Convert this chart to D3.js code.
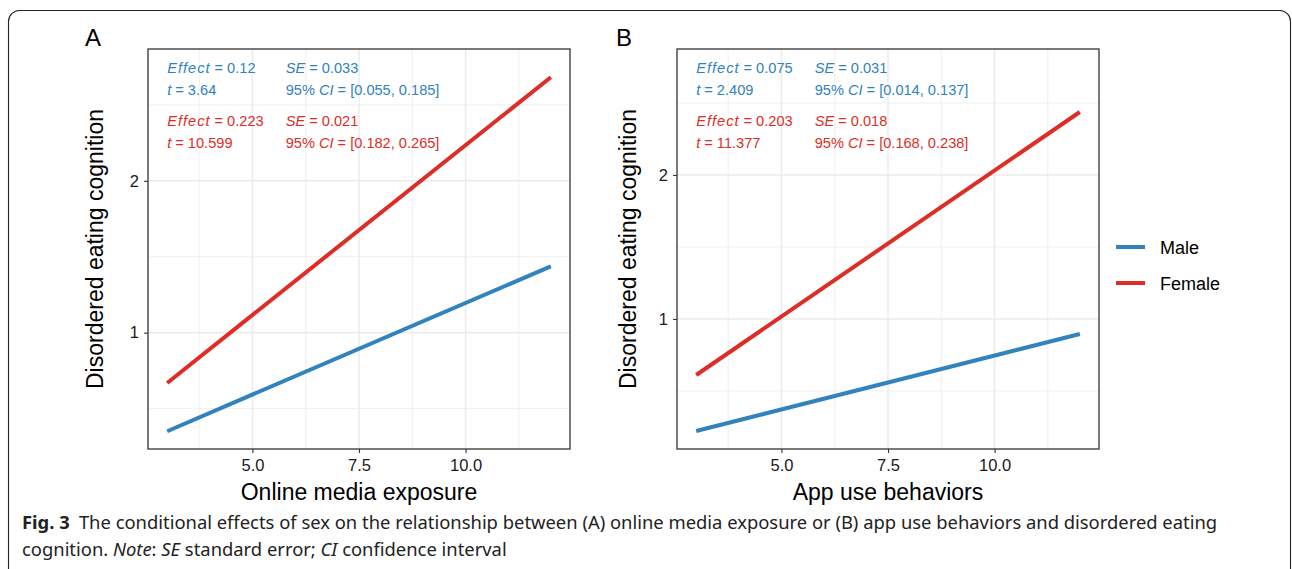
<!DOCTYPE html>
<html>
<head>
<meta charset="utf-8">
<script src="https://cdn.jsdelivr.net/npm/d3@7"></script>
<style>
  body { margin: 0; background: #fff; }
  svg { display: block; }
  svg text { font-family: "Liberation Sans", Arial, sans-serif; }
</style>
</head>
<body>
<div id="chart"></div>
<script>
// data: predicted values at the min and max of x
var xValues = [3, 12];
var maleA = [0.351, 1.437];
var femaleA = [0.669, 2.682];
var maleB = [0.222, 0.896];
var femaleB = [0.611, 2.4375];

var xTicks = [5, 7.5, 10];
var xMinor = [3.75, 6.25, 8.75, 11.25];
var yTicks = [1, 2];
var yMinor = [0.5, 1.5, 2.5];

var seriesNames = ['Male', 'Female'];
var colors = {'Male': '#3182bd', 'Female': '#de2d26'};

var statsA = {
	'Male': ['0.12', '0.033', '3.64', '[0.055, 0.185]'],
	'Female': ['0.223', '0.021', '10.599', '[0.182, 0.265]']
};
var statsB = {
	'Male': ['0.075', '0.031', '2.409', '[0.014, 0.137]'],
	'Female': ['0.203', '0.018', '11.377', '[0.168, 0.238]']
};

var W = 1292, H = 569;
var svg = d3.select('#chart').append('svg').attr('width', W).attr('height', H);

// outer frame of the figure box
svg.append('rect')
	.attr('x', 8.5).attr('y', 10.5)
	.attr('width', 1282).attr('height', 570)
	.attr('rx', 11).attr('ry', 11)
	.attr('fill', 'none').attr('stroke', '#222').attr('stroke-width', 1.1);

/**
 * draw one panel
 **/
function drawPanel(opt) {
	var x = d3.scaleLinear().domain([2.55, 12.45]).range([opt.left, opt.right]);
	var y = d3.scaleLinear().domain(opt.yDomain).range([449, 49]);
	var g = svg.append('g');

	g.append('rect')
		.attr('x', opt.left).attr('y', 49)
		.attr('width', opt.right - opt.left).attr('height', 400)
		.attr('fill', '#fff');

	// grid
	g.selectAll('.xmin').data(xMinor).enter().append('line')
		.attr('x1', function(d) { return x(d); }).attr('x2', function(d) { return x(d); })
		.attr('y1', 49).attr('y2', 449)
		.attr('stroke', '#ebebeb').attr('stroke-width', 0.8);
	g.selectAll('.ymin').data(yMinor.filter(function(d) { return d > opt.yDomain[0] && d < opt.yDomain[1]; })).enter().append('line')
		.attr('y1', function(d) { return y(d); }).attr('y2', function(d) { return y(d); })
		.attr('x1', opt.left).attr('x2', opt.right)
		.attr('stroke', '#ebebeb').attr('stroke-width', 0.8);
	g.selectAll('.xmaj').data(xTicks).enter().append('line')
		.attr('x1', function(d) { return x(d); }).attr('x2', function(d) { return x(d); })
		.attr('y1', 49).attr('y2', 449)
		.attr('stroke', '#ebebeb').attr('stroke-width', 1.5);
	g.selectAll('.ymaj').data(yTicks).enter().append('line')
		.attr('y1', function(d) { return y(d); }).attr('y2', function(d) { return y(d); })
		.attr('x1', opt.left).attr('x2', opt.right)
		.attr('stroke', '#ebebeb').attr('stroke-width', 1.5);

	// lines
	var line = d3.line()
		.x(function(d) { return x(d[0]); })
		.y(function(d) { return y(d[1]); });
	[['Male', opt.male], ['Female', opt.female]].forEach(function(s) {
		g.append('path')
			.datum(d3.zip(xValues, s[1]))
			.attr('d', line)
			.attr('fill', 'none')
			.attr('stroke', colors[s[0]])
			.attr('stroke-width', 4);
	});

	// annotations
	var rows = [[73, 95], [126, 148]];
	var fs = '14.6px';
	seriesNames.forEach(function(name, i) {
		var st = opt.stats[name];
		var c = colors[name];
		var t1 = g.append('text').attr('x', x(3)).attr('y', rows[i][0]).attr('fill', c).style('font-size', fs);
		t1.append('tspan').attr('font-style', 'italic').attr('letter-spacing', '1px').text('Effect');
		t1.append('tspan').text(' = ' + st[0]);
		var t2 = g.append('text').attr('x', x(3)).attr('y', rows[i][1]).attr('fill', c).style('font-size', fs);
		t2.append('tspan').attr('font-style', 'italic').text('t');
		t2.append('tspan').text(' = ' + st[2]);
		var t3 = g.append('text').attr('x', x(5.78)).attr('y', rows[i][0]).attr('fill', c).style('font-size', fs);
		t3.append('tspan').attr('font-style', 'italic').text('SE');
		t3.append('tspan').text(' = ' + st[1]);
		var t4 = g.append('text').attr('x', x(5.78)).attr('y', rows[i][1]).attr('fill', c).style('font-size', fs);
		t4.append('tspan').text('95% ');
		t4.append('tspan').attr('font-style', 'italic').text('CI');
		t4.append('tspan').text(' = ' + st[3]);
	});

	// panel border
	g.append('rect')
		.attr('x', opt.left).attr('y', 49)
		.attr('width', opt.right - opt.left).attr('height', 400)
		.attr('fill', 'none').attr('stroke', '#333').attr('stroke-width', 1.3);

	// axes
	var xAxis = g.append('g').attr('transform', 'translate(0,449)')
		.call(d3.axisBottom(x).tickValues(xTicks).tickFormat(d3.format('.1f')).tickSize(4).tickPadding(6));
	var yAxis = g.append('g').attr('transform', 'translate(' + opt.left + ',0)')
		.call(d3.axisLeft(y).tickValues(yTicks).tickFormat(d3.format('d')).tickSize(4).tickPadding(5));
	[xAxis, yAxis].forEach(function(a) {
		a.attr('font-family', null).attr('font-size', null);
		a.select('.domain').remove();
		a.selectAll('.tick line').attr('stroke', '#333').attr('stroke-width', 1.1);
		a.selectAll('.tick text').attr('fill', '#1a1a1a').style('font-size', '16.5px');
	});

	// titles
	g.append('text')
		.attr('x', (opt.left + opt.right) / 2).attr('y', 500)
		.attr('text-anchor', 'middle')
		.style('font-size', '23px').attr('fill', '#000')
		.text(opt.xTitle);
	g.append('text')
		.attr('transform', 'translate(' + opt.yTitleX + ',249) rotate(-90)')
		.attr('text-anchor', 'middle')
		.style('font-size', '23px').attr('fill', '#000')
		.text('Disordered eating cognition');
	g.append('text')
		.attr('x', opt.labelX).attr('y', 46)
		.style('font-size', '24px').attr('fill', '#000')
		.text(opt.label);
}

drawPanel({
	left: 148, right: 570, yDomain: [0.234, 2.868],
	male: maleA, female: femaleA, stats: statsA,
	xTitle: 'Online media exposure', yTitleX: 103, label: 'A', labelX: 85
});
drawPanel({
	left: 677, right: 1099, yDomain: [0.097, 2.875],
	male: maleB, female: femaleB, stats: statsB,
	xTitle: 'App use behaviors', yTitleX: 636, label: 'B', labelX: 616
});

// legend
var legend = svg.append('g');
seriesNames.forEach(function(name, i) {
	var ly = 247 + i * 36;
	legend.append('line')
		.attr('x1', 1116).attr('x2', 1145).attr('y1', ly).attr('y2', ly)
		.attr('stroke', colors[name]).attr('stroke-width', 4);
	legend.append('text')
		.attr('x', 1160).attr('y', ly + 6.5)
		.style('font-size', '18px').attr('fill', '#000')
		.text(name);
});

// caption
var capFont = '"Noto Sans", "Open Sans", sans-serif';
var cap1 = svg.append('text').attr('x', 22).attr('y', 529)
	.style('font-family', capFont).style('font-size', '18.4px').attr('fill', '#222');
cap1.append('tspan').attr('font-weight', 'bold').text('Fig. 3');
cap1.append('tspan').text('\u2002The conditional effects of sex on the relationship between (A) online media exposure or (B) app use behaviors and disordered eating');

var cap2 = svg.append('text').attr('x', 22).attr('y', 556)
	.style('font-family', capFont).style('font-size', '18.4px').attr('fill', '#222');
cap2.append('tspan').text('cognition. ');
cap2.append('tspan').attr('font-style', 'italic').text('Note');
cap2.append('tspan').text(': ');
cap2.append('tspan').attr('font-style', 'italic').text('SE');
cap2.append('tspan').text(' standard error; ');
cap2.append('tspan').attr('font-style', 'italic').text('CI');
cap2.append('tspan').text(' confidence interval');
</script>
</body>
</html>
